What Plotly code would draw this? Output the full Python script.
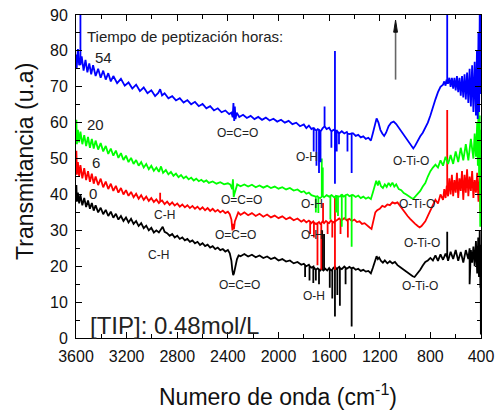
import plotly.graph_objects as go

# FTIR transmittance spectra (wavenumber cm-1, transmittance u.a.) for each peptization time.
# Repeated wavenumbers describe the narrow vertical spikes of the spectra.
spectrum_0h = [
    (3600, 40.5), (3597, 42.6), (3593, 38), (3585, 40.5), (3575, 37.5), (3565, 39.8), (3550, 37), (3535, 39),
    (3520, 36.5), (3505, 38.3), (3490, 36), (3475, 37.6), (3460, 35.5), (3445, 37), (3425, 35), (3405, 36.3),
    (3385, 34.5), (3365, 35.7), (3345, 34), (3325, 35.2), (3305, 33.5), (3285, 34.6), (3265, 33), (3245, 34),
    (3225, 32.6), (3205, 33.6), (3185, 32.2), (3165, 33.2), (3145, 31.8), (3125, 32.6), (3105, 31.2), (3085, 32),
    (3065, 30.6), (3045, 31.3), (3025, 30), (3005, 30.7), (2985, 29.4), (2965, 30), (2945, 29.4), (2930, 30.4),
    (2915, 31), (2900, 29.6), (2880, 29.2), (2860, 28.5), (2840, 29), (2820, 28), (2800, 28.5), (2780, 27.6),
    (2760, 28), (2740, 27.2), (2720, 27.6), (2700, 26.8), (2680, 27.2), (2660, 26.4), (2640, 26.8), (2620, 25.9),
    (2600, 26.4), (2580, 25.6), (2560, 26), (2540, 25.2), (2520, 25.6), (2500, 24.8), (2480, 25.2), (2460, 24.5),
    (2440, 24.8), (2420, 24.1), (2400, 24.5), (2385, 23.6), (2372, 21.5), (2365, 19), (2358, 17.5), (2352, 18),
    (2345, 19.5), (2338, 20.5), (2328, 22), (2315, 23), (2300, 22.8), (2270, 23.4), (2240, 22.7), (2210, 23.2),
    (2180, 22.5), (2150, 23), (2120, 22.3), (2090, 22.7), (2060, 22), (2030, 22.4), (2000, 21.6), (1970, 22),
    (1940, 21.3), (1910, 21.6), (1880, 20.8), (1850, 21.2), (1820, 20.4), (1800, 20.7),
    (1790, 20.3), (1790, 17), (1790, 20.3), (1780, 20), (1760, 20.4), (1755, 20.1), (1755, 16), (1755, 20.1),
    (1740, 19.6), (1725, 19.9), (1725, 15.3), (1725, 19.9), (1710, 19.2), (1705, 19), (1705, 16), (1705, 19),
    (1690, 19.4), (1680, 19.1), (1680, 15), (1680, 19.1), (1670, 18.8), (1660, 19.3), (1655, 19.1), (1655, 30),
    (1655, 19.1), (1645, 18.8), (1640, 19), (1640, 29), (1640, 19), (1630, 19.3), (1615, 18.8), (1600, 19.5),
    (1595, 19.2), (1595, 14), (1595, 19.2), (1580, 18.8), (1575, 19), (1575, 11), (1575, 19), (1565, 19.6),
    (1554, 19.8), (1554, 6), (1554, 19.8), (1540, 19.2), (1535, 19.4), (1535, 12), (1535, 19.4), (1520, 19.8),
    (1515, 19.5), (1515, 9), (1515, 19.5), (1500, 19.2), (1480, 19.9), (1470, 19.6), (1470, 15), (1470, 19.6),
    (1460, 19.3), (1440, 19.8), (1422, 19.4), (1422, 3.2), (1422, 19.4), (1410, 19.6), (1390, 19), (1370, 19.3),
    (1350, 18.7), (1330, 19), (1310, 18.5), (1290, 18.7), (1270, 18), (1255, 19.5), (1240, 21.5), (1225, 22.8),
    (1215, 22), (1205, 22.4), (1190, 21.5), (1175, 21), (1160, 21.6), (1140, 20.8), (1120, 21.4), (1100, 20.8),
    (1080, 21.2), (1060, 20.3), (1040, 19.8), (1020, 19.3), (1000, 18.6), (980, 18.2), (960, 17.6), (940, 17.2),
    (925, 17), (910, 17.6), (895, 18.3), (880, 19), (860, 20.2), (840, 21.2), (820, 21.6), (800, 22.3),
    (780, 21.6), (760, 23), (740, 21.5), (720, 23.3), (700, 21.8), (680, 23.5), (667, 22.5), (667, 29.6),
    (667, 22.5), (660, 21.5), (640, 24), (620, 22), (600, 24.5), (580, 21.5), (560, 24), (540, 21), (520, 24.5),
    (500, 22), (490, 25), (490, 15), (480, 24.5), (470, 21), (460, 25.5), (450, 20), (440, 27), (430, 18),
    (422, 28), (416, 17), (410, 30), (405, 14), (402, 26), (401, 1), (400, 20),
]

spectrum_6h = [
    (3600, 47.5), (3597, 52.2), (3593, 45.5), (3585, 49), (3575, 45), (3565, 48.2), (3550, 44.5), (3535, 47.3),
    (3520, 44), (3505, 46.5), (3490, 43.5), (3475, 45.8), (3460, 43), (3445, 45), (3425, 42.6), (3405, 44.4),
    (3385, 42), (3365, 43.6), (3345, 41.5), (3325, 43), (3305, 41), (3285, 42.4), (3265, 40.5), (3245, 41.8),
    (3225, 40), (3205, 41.2), (3185, 39.6), (3165, 40.7), (3145, 39.2), (3125, 40.2), (3105, 38.8), (3085, 39.8),
    (3065, 38.5), (3045, 39.4), (3025, 38.2), (3005, 39), (2985, 37.9), (2965, 38.6), (2945, 37.6), (2935, 38),
    (2935, 40.5), (2935, 38), (2920, 38.3), (2900, 37.3), (2880, 38), (2860, 37.1), (2840, 37.8), (2820, 36.9),
    (2800, 37.5), (2780, 36.6), (2760, 37.2), (2740, 36.4), (2720, 37), (2700, 36.2), (2680, 36.8), (2660, 36),
    (2640, 36.6), (2620, 35.8), (2600, 36.4), (2580, 35.6), (2560, 36.2), (2540, 35.4), (2520, 36), (2500, 35.2),
    (2480, 35.7), (2460, 35), (2440, 35.5), (2420, 34.8), (2400, 35.2), (2385, 34.5), (2372, 33), (2364, 30),
    (2358, 31.8), (2352, 30.3), (2345, 32.5), (2332, 34), (2318, 35), (2300, 34.3), (2270, 35), (2240, 34.2),
    (2210, 34.8), (2180, 34), (2150, 34.6), (2120, 33.8), (2090, 34.4), (2060, 33.6), (2030, 34.1), (2000, 33.4),
    (1970, 33.9), (1940, 33.1), (1910, 33.6), (1880, 32.8), (1850, 33.3), (1820, 32.4), (1800, 32.9), (1780, 32.2),
    (1760, 32.7), (1750, 32.4), (1750, 29), (1750, 32.4), (1740, 32), (1725, 32.5), (1720, 32.2), (1720, 28),
    (1720, 32.2), (1705, 31.8), (1692, 32), (1692, 20.3), (1692, 32), (1680, 32.3), (1670, 31.8), (1662, 32),
    (1662, 19), (1662, 32), (1652, 32.5), (1648, 32.3), (1648, 37.6), (1648, 32.3), (1640, 32), (1625, 32.6),
    (1612, 32.2), (1612, 29), (1612, 32.2), (1600, 32), (1585, 32.8), (1575, 32.4), (1575, 28), (1575, 32.4),
    (1562, 32.2), (1554, 32.5), (1554, 39), (1554, 19), (1554, 32.5), (1540, 32.8), (1520, 33.3), (1510, 33),
    (1510, 29), (1510, 33), (1500, 32.8), (1480, 33.4), (1460, 32.8), (1452, 33), (1452, 28), (1452, 33),
    (1440, 33.2), (1420, 32.6), (1400, 33), (1380, 32.3), (1360, 32.5), (1340, 31.8), (1320, 32), (1300, 31.3),
    (1280, 30.8), (1265, 30.4), (1250, 32.5), (1235, 35), (1220, 35.6), (1200, 36), (1180, 36.8), (1160, 36.5),
    (1140, 37.2), (1120, 37), (1100, 37.8), (1080, 37.5), (1060, 37.8), (1040, 36.8), (1020, 35.8), (1000, 35),
    (980, 34), (960, 33.2), (940, 32.4), (920, 31.8), (900, 31.2), (885, 30.8), (870, 31.2), (855, 32),
    (840, 32.5), (820, 34), (800, 35.5), (780, 37.3), (760, 38.5), (740, 37.5), (720, 40), (700, 38.5),
    (690, 41.5), (680, 39), (670, 42.5), (667, 41), (667, 63.5), (667, 41), (660, 39.5), (650, 44.5), (640, 40),
    (630, 45.5), (620, 39.5), (610, 44), (600, 40.5), (590, 46), (580, 39), (570, 44.5), (560, 41), (550, 46.5),
    (540, 38.5), (530, 45.5), (520, 40.5), (510, 47), (500, 39.5), (490, 45), (480, 41), (470, 46.5), (460, 39),
    (450, 44), (440, 40.5), (430, 46), (420, 38), (410, 45), (405, 35), (400, 40),
]

spectrum_20h = [
    (3600, 57), (3597, 60.8), (3593, 54), (3585, 58), (3575, 54.5), (3565, 57.5), (3550, 54), (3535, 56.5),
    (3520, 53.5), (3505, 56), (3490, 53), (3475, 55.5), (3460, 52.8), (3445, 55), (3425, 52.5), (3405, 54.3),
    (3385, 52), (3365, 53.5), (3345, 51.3), (3325, 52.8), (3305, 50.8), (3285, 52.2), (3265, 50.2), (3245, 51.5),
    (3225, 49.6), (3205, 50.8), (3185, 49), (3165, 50.2), (3145, 48.5), (3125, 49.6), (3105, 48), (3085, 49),
    (3065, 47.5), (3045, 48.5), (3025, 47), (3005, 48), (2985, 46.6), (2965, 47.5), (2945, 46.3), (2928, 47.8),
    (2912, 46), (2890, 46.8), (2870, 45.6), (2850, 46.3), (2830, 45.2), (2810, 45.8), (2790, 44.8), (2770, 45.4),
    (2750, 44.5), (2730, 45), (2710, 44.2), (2690, 44.7), (2670, 43.9), (2650, 44.4), (2630, 43.7), (2610, 44.1),
    (2590, 43.5), (2570, 43.9), (2550, 43.2), (2520, 43.6), (2490, 43), (2460, 43.4), (2430, 42.8), (2400, 43.1),
    (2380, 42.7), (2366, 41.5), (2360, 44.2), (2354, 39.3), (2348, 40.2), (2340, 41.5), (2326, 42.8), (2300, 42.3),
    (2270, 42.8), (2240, 42.2), (2210, 42.7), (2180, 42), (2150, 42.5), (2120, 41.9), (2090, 42.4), (2060, 41.8),
    (2030, 42.2), (2000, 41.6), (1970, 42), (1940, 41.4), (1910, 41.8), (1880, 41.1), (1850, 41.4), (1820, 40.6),
    (1800, 40.9), (1780, 40.2), (1760, 40.5), (1740, 39.8), (1720, 39.6), (1705, 39.4), (1705, 35), (1705, 39.4),
    (1692, 39.5), (1685, 39.2), (1685, 34.8), (1685, 39.2), (1670, 39), (1658, 39.4), (1658, 50), (1658, 39.4),
    (1650, 39.6), (1650, 47.5), (1650, 39.6), (1640, 39.2), (1620, 39.8), (1600, 39.4), (1590, 39.6), (1590, 33),
    (1590, 39.6), (1580, 39.8), (1560, 39.2), (1545, 39.6), (1545, 35), (1545, 39.6), (1530, 39.5), (1530, 34),
    (1530, 39.5), (1515, 39.4), (1500, 40), (1500, 31), (1500, 40), (1485, 39.4), (1470, 39.8), (1470, 33),
    (1470, 39.8), (1455, 40), (1440, 39.5), (1422, 39.8), (1422, 25.4), (1422, 39.8), (1410, 39.8), (1390, 39.3),
    (1370, 39.7), (1350, 39), (1330, 39.4), (1310, 38.8), (1290, 39.2), (1270, 38.7), (1255, 40.5), (1240, 42.5),
    (1228, 43.8), (1215, 42.5), (1205, 43.8), (1190, 42.3), (1175, 41.8), (1160, 42.8), (1145, 42.1), (1130, 43.2),
    (1115, 42.4), (1100, 43.3), (1085, 42.2), (1070, 42.8), (1050, 41.5), (1030, 41.2), (1010, 40.4), (990, 40),
    (970, 39.4), (950, 39), (935, 38.8), (920, 39.4), (900, 40.2), (880, 41), (860, 42.2), (840, 43.2), (820, 45),
    (800, 46.5), (780, 47.5), (760, 48.3), (740, 47.5), (720, 49.5), (700, 48), (680, 50.5), (660, 48.5),
    (640, 51), (620, 48.5), (600, 52), (580, 49), (560, 53), (540, 49.5), (520, 54), (500, 49.5), (480, 55.5),
    (460, 50), (450, 57), (440, 50.5), (430, 60), (425, 48), (420, 66), (415, 45), (410, 62), (406, 31),
    (403, 58), (400, 52),
]

spectrum_54h = [
    (3600, 79), (3595, 75), (3585, 80.5), (3575, 76), (3565, 77), (3565, 90), (3565, 76), (3555, 78.5),
    (3540, 74.5), (3525, 77.5), (3510, 74), (3495, 76.5), (3480, 73.5), (3465, 76), (3445, 73), (3425, 75),
    (3405, 72.5), (3385, 74.5), (3365, 72), (3345, 73.8), (3325, 71.5), (3305, 73), (3275, 71), (3245, 72.2),
    (3215, 70.3), (3185, 71.2), (3155, 69.5), (3125, 70.6), (3095, 68.8), (3065, 69.8), (3035, 68.2), (3005, 69),
    (2975, 67.4), (2950, 68.3), (2935, 69.3), (2920, 67.6), (2900, 68.2), (2870, 66.8), (2840, 67.4), (2810, 66.2),
    (2780, 66.8), (2750, 65.6), (2720, 66.3), (2690, 65.1), (2660, 65.8), (2630, 64.6), (2600, 65.2), (2570, 64),
    (2540, 64.6), (2510, 63.4), (2480, 64), (2450, 62.9), (2420, 63.4), (2390, 62.4), (2372, 62.8), (2362, 61.5),
    (2356, 65.5), (2350, 60.5), (2345, 64.5), (2340, 61), (2330, 62.8), (2310, 61.6), (2280, 62.2), (2250, 61.3),
    (2220, 61.9), (2190, 61), (2160, 61.6), (2130, 60.8), (2100, 61.4), (2070, 60.6), (2040, 61.1), (2010, 60.3),
    (1980, 60.8), (1950, 60), (1920, 60.5), (1890, 59.6), (1860, 60), (1830, 59), (1800, 59.5), (1780, 58.5),
    (1760, 59.2), (1740, 58.2), (1722, 58.6), (1722, 52), (1722, 58.6), (1710, 58), (1700, 57.8), (1700, 48),
    (1700, 57.8), (1690, 58.2), (1680, 58), (1680, 46), (1680, 58), (1668, 57.5), (1668, 49), (1668, 57.5),
    (1652, 58.4), (1636, 59), (1636, 64.5), (1636, 59), (1620, 58.2), (1600, 58.6), (1582, 57.5), (1582, 53),
    (1582, 57.5), (1566, 58), (1554, 57.8), (1554, 80), (1554, 43), (1554, 57.8), (1540, 57.8), (1540, 52),
    (1540, 57.8), (1522, 57), (1522, 54), (1522, 57), (1500, 57.6), (1480, 57), (1460, 57.4), (1455, 57),
    (1455, 52), (1455, 57), (1440, 56.8), (1422, 57), (1422, 46), (1422, 57), (1410, 57), (1390, 56.3),
    (1370, 56.6), (1350, 55.9), (1330, 56.2), (1310, 55.5), (1290, 55.8), (1270, 55), (1255, 57), (1240, 59.5),
    (1225, 61.2), (1210, 60), (1195, 58), (1180, 57), (1165, 56.3), (1150, 57.2), (1130, 59), (1110, 60),
    (1090, 60.3), (1070, 59.6), (1050, 58.6), (1030, 57.6), (1010, 56.5), (990, 55.5), (970, 54.3), (950, 53.4),
    (935, 52.8), (920, 53.6), (900, 55), (880, 56.2), (860, 57.2), (840, 58.5), (820, 60), (800, 62),
    (780, 64.5), (760, 66.5), (740, 68.5), (720, 70), (700, 70.6), (690, 71.5), (680, 70.3), (672, 72),
    (667, 71), (667, 90), (667, 71), (660, 71), (650, 72.5), (640, 70), (630, 72.5), (620, 69.5), (610, 72.5),
    (600, 69), (590, 73), (580, 68.5), (570, 72.5), (560, 67.5), (550, 73), (540, 67), (530, 73.5), (520, 66.5),
    (510, 74), (500, 65.5), (490, 75), (480, 64.5), (470, 76), (460, 63), (450, 77), (440, 62), (432, 80),
    (426, 61), (420, 85), (415, 63), (410, 90), (406, 68), (403, 90), (400, 76),
]

series_names = ["0", "6", "20", "54"]
series_colors = ["#000000", "#ff0000", "#00ff00", "#0000ff"]
series_data = [spectrum_0h, spectrum_6h, spectrum_20h, spectrum_54h]

x_ticks = [3600, 3200, 2800, 2400, 2000, 1600, 1200, 800, 400]
y_ticks = [0, 10, 20, 30, 40, 50, 60, 70, 80, 90]

# Band labels: (text, wavenumber, transmittance)
band_labels = [
    ("O=C=O", 2324, 57.1), ("O-H", 1775, 50.4), ("O-Ti-O", 954, 49.3),
    ("O=C=O", 2289, 38.4), ("O-H", 1732, 37.2), ("O-Ti-O", 903, 37.2),
    ("C-H", 2903, 34.3), ("O=C=O", 2336, 28.8), ("O-H", 1738, 28.6), ("O-Ti-O", 863, 26.6),
    ("C-H", 2951, 23.1), ("O=C=O", 2309, 14.8), ("O-H", 1722, 11.8), ("O-Ti-O", 883, 14.4),
]
# Peptization-time labels: (text, wavenumber, transmittance)
time_labels = [("54", 3382, 78.1), ("20", 3446, 59.6), ("6", 3442, 48.9), ("0", 3462, 40.4)]

FONT = "Arial, Liberation Sans, sans-serif"

fig = go.Figure()
for name, color, data in zip(series_names, series_colors, series_data):
    wn = [p[0] for p in data]
    tr = [p[1] for p in data]
    fig.add_trace(go.Scatter(x=wn, y=tr, mode="lines", name=name,
                             line=dict(color=color, width=1.8), hoverinfo="skip"))

annotations = []
for text, xv, yv in band_labels:
    annotations.append(dict(x=xv, y=yv, xref="x", yref="y", text=text, showarrow=False,
                            xanchor="center", yanchor="middle",
                            font=dict(size=12, family=FONT, color="#222")))
for text, xv, yv in time_labels:
    annotations.append(dict(x=xv, y=yv, xref="x", yref="y", text=text, showarrow=False,
                            xanchor="center", yanchor="middle",
                            font=dict(size=15, family=FONT, color="#222")))
annotations.append(dict(x=3529, y=84.0, xref="x", yref="y", text="Tiempo de peptización horas:",
                        showarrow=False, xanchor="left", yanchor="middle",
                        font=dict(size=15, family=FONT, color="#222")))
annotations.append(dict(x=3505, y=3.6, xref="x", yref="y", text="[TIP]: 0.48mol/L",
                        showarrow=False, xanchor="left", yanchor="middle",
                        font=dict(size=24, family=FONT, color="#222")))
# axis titles
annotations.append(dict(x=-0.126, y=0.548, xref="paper", yref="paper", text="Transmitancia (u.a)",
                        textangle=-90, showarrow=False, xanchor="center", yanchor="middle",
                        font=dict(size=23, family=FONT, color="#111")))
annotations.append(dict(x=0.499, y=-0.176, xref="paper", yref="paper",
                        text="Numero de onda (cm<sup>-1</sup>)",
                        showarrow=False, xanchor="center", yanchor="middle",
                        font=dict(size=23, family=FONT, color="#111")))

# vertical arrow: gray shaft with a black head
fig.add_shape(type="line", xref="x", yref="y", x0=1075, x1=1075, y0=72, y1=86,
              line=dict(color="#666", width=1.6), layer="above")
fig.add_shape(type="path", xref="x", yref="y", layer="above",
              path="M 1060,85.2 L 1075,88.6 L 1090,85.2 Z",
              fillcolor="#111", line=dict(color="#111", width=1))

axis_common = dict(showline=True, linecolor="black", linewidth=1, mirror="ticks",
                   ticks="inside", ticklen=6, tickwidth=1, tickcolor="black",
                   showgrid=False, zeroline=False, automargin=False,
                   tickfont=dict(size=16, family=FONT, color="#111"))

fig.update_layout(
    width=499, height=415,
    margin=dict(l=76, r=18, t=15, b=77),
    plot_bgcolor="white", paper_bgcolor="white",
    showlegend=False,
    font=dict(family=FONT, color="#111"),
    annotations=annotations,
    xaxis=dict(range=[3600, 400], tickmode="array", tickvals=x_ticks,
               ticktext=[str(v) for v in x_ticks], ticklabelstandoff=4,
               minor=dict(ticks="inside", ticklen=4, dtick=200, tick0=0, tickcolor="black", showgrid=False),
               **axis_common),
    yaxis=dict(range=[0, 90], tickmode="array", tickvals=y_ticks,
               ticktext=[str(v) for v in y_ticks], ticklabelstandoff=4,
               minor=dict(ticks="inside", ticklen=4, dtick=5, tick0=0, tickcolor="black", showgrid=False),
               **axis_common),
)

fig.write_html("out.html")
